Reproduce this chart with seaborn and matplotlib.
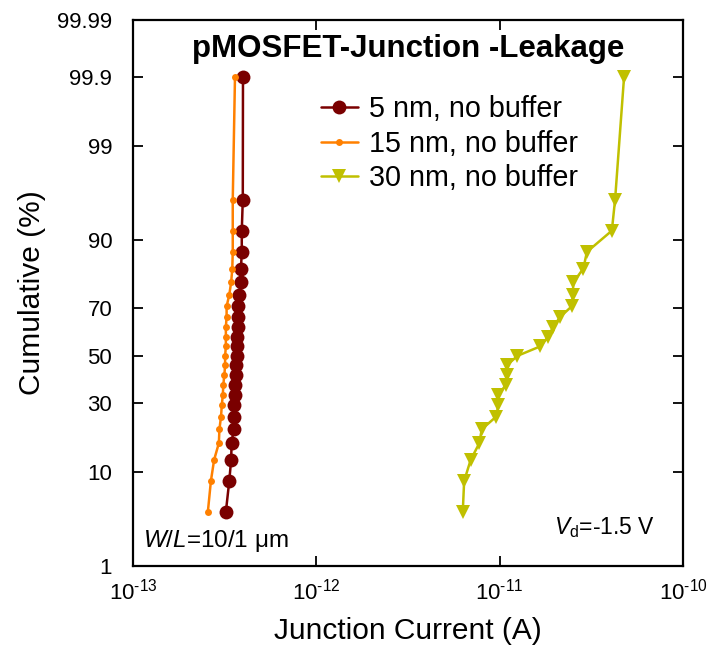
import numpy as np
import pandas as pd
import matplotlib
matplotlib.use("Agg")
import matplotlib.pyplot as plt
from matplotlib.ticker import FixedLocator, FuncFormatter, NullLocator
import seaborn as sns
from statistics import NormalDist

# Cumulative probability levels (%) shared by all three device splits
cumulative_pct = [4.2, 8.3, 12.5, 16.7, 20.8, 25.0, 29.2, 33.3, 37.5, 41.7, 45.8, 50.0,
                  54.2, 58.3, 62.5, 66.7, 70.8, 75.0, 79.2, 83.3, 87.5, 91.7, 95.8, 99.9]

# Junction leakage current (A)
current_5nm = [3.21e-13, 3.35e-13, 3.43e-13, 3.45e-13, 3.54e-13, 3.57e-13, 3.57e-13, 3.60e-13,
               3.61e-13, 3.63e-13, 3.66e-13, 3.68e-13, 3.69e-13, 3.71e-13, 3.73e-13, 3.74e-13,
               3.75e-13, 3.79e-13, 3.87e-13, 3.88e-13, 3.92e-13, 3.92e-13, 3.97e-13, 3.98e-13]
current_15nm = [2.56e-13, 2.66e-13, 2.77e-13, 2.94e-13, 2.96e-13, 3.02e-13, 3.05e-13, 3.09e-13,
                3.11e-13, 3.15e-13, 3.18e-13, 3.18e-13, 3.21e-13, 3.21e-13, 3.21e-13, 3.24e-13,
                3.24e-13, 3.35e-13, 3.43e-13, 3.48e-13, 3.50e-13, 3.50e-13, 3.50e-13, 3.60e-13]
current_30nm = [6.29e-12, 6.40e-12, 6.95e-12, 7.75e-12, 7.98e-12, 9.55e-12, 9.84e-12, 9.84e-12,
                1.083e-11, 1.094e-11, 1.094e-11, 1.250e-11, 1.667e-11, 1.837e-11, 1.955e-11, 2.14e-11,
                2.47e-11, 2.51e-11, 2.52e-11, 2.86e-11, 2.99e-11, 4.09e-11, 4.26e-11, 4.77e-11]

series_labels = ["5 nm, no buffer", "15 nm, no buffer", "30 nm, no buffer"]
y_ticks = [1, 10, 30, 50, 70, 90, 99, 99.9, 99.99]
y_tick_labels = ["1", "10", "30", "50", "70", "90", "99", "99.9", "99.99"]
x_ticks = [1e-13, 1e-12, 1e-11, 1e-10]

sns.set_theme(style="ticks")
plt.rcParams["font.family"] = ["Liberation Sans", "DejaVu Sans"]
plt.rcParams["mathtext.fontset"] = "custom"
plt.rcParams["mathtext.rm"] = "Liberation Sans"
plt.rcParams["mathtext.it"] = "Liberation Sans:italic"
plt.rcParams["mathtext.default"] = "regular"
plt.rcParams["text.color"] = "black"
plt.rcParams["axes.labelcolor"] = "black"
plt.rcParams["xtick.color"] = "black"
plt.rcParams["ytick.color"] = "black"

_nd = NormalDist()


def _to_z(p):
    # percent -> standard normal quantile (probability-paper axis)
    p = np.asarray(p, dtype=float) / 100.0
    p = np.clip(p, 1e-9, 1 - 1e-9)
    out = np.full(p.shape, np.nan)
    ok = np.isfinite(p)
    out[ok] = [_nd.inv_cdf(v) for v in p[ok]]
    return out


def _from_z(z):
    z = np.asarray(z, dtype=float)
    out = np.full(z.shape, np.nan)
    ok = np.isfinite(z)
    out[ok] = [_nd.cdf(v) * 100.0 for v in z[ok]]
    return out


def _decade_label(val, pos):
    exp = int(round(np.log10(val)))
    return r"10$^{\text{%d}}$" % exp


fig = plt.figure(figsize=(7.12, 6.62), dpi=100)
ax = fig.add_axes([0.1868, 0.145, 0.7725, 0.825])
ax.set_xscale("log")
ax.set_yscale("function", functions=(_to_z, _from_z))

styles = [
    dict(color="#7a0000", marker="o", markersize=10),
    dict(color="#ff8000", marker="o", markersize=5),
    dict(color="#c0c000", marker="v", markersize=9.5),
]
for cur, lab, st in zip([current_5nm, current_15nm, current_30nm], series_labels, styles):
    df = pd.DataFrame({"current": cur, "cum": cumulative_pct})
    sns.lineplot(data=df, x="current", y="cum", sort=False, estimator=None, ax=ax,
                 label=lab, color=st["color"], marker=st["marker"],
                 markersize=st["markersize"], markeredgewidth=0,
                 markeredgecolor=st["color"], linewidth=1.8)

ax.set_xlim(1e-13, 1e-10)
ax.set_ylim(1, 99.99)
ax.xaxis.set_major_locator(FixedLocator(x_ticks))
ax.xaxis.set_major_formatter(FuncFormatter(_decade_label))
ax.xaxis.set_minor_locator(NullLocator())
ax.set_yticks(y_ticks)
ax.set_yticklabels(y_tick_labels)
ax.yaxis.set_minor_locator(NullLocator())
ax.tick_params(axis="both", which="major", direction="in", length=7, width=1.3,
               top=True, right=True, colors="black")
ax.tick_params(axis="x", labelsize=16, pad=9)
ax.tick_params(axis="y", labelsize=16, pad=15)
for sp in ax.spines.values():
    sp.set_linewidth(1.6)
    sp.set_color("black")

ax.set_xlabel("Junction Current (A)", fontsize=21.5, labelpad=9)
ax.set_ylabel("Cumulative (%)", fontsize=21.5, labelpad=8)

ax.text(0.5, 0.947, "pMOSFET-Junction -Leakage", transform=ax.transAxes,
        ha="center", va="center", fontsize=22.5, fontweight="bold")
ax.text(0.018, 0.045, r"$\mathit{W}$/$\mathit{L}$=10/1 μm", transform=ax.transAxes,
        ha="left", va="center", fontsize=17.5)
ax.text(0.95, 0.07, r"$\mathit{V}_{\mathrm{d}}$=-1.5 V", transform=ax.transAxes,
        ha="right", va="center", fontsize=16.5)

leg = ax.legend(loc="upper left", bbox_to_anchor=(0.342, 0.862), frameon=False,
                fontsize=20.7, handlelength=1.27, handletextpad=0.4, labelspacing=0.23,
                borderaxespad=0, borderpad=0)

fig.savefig("out.png", dpi=100)
